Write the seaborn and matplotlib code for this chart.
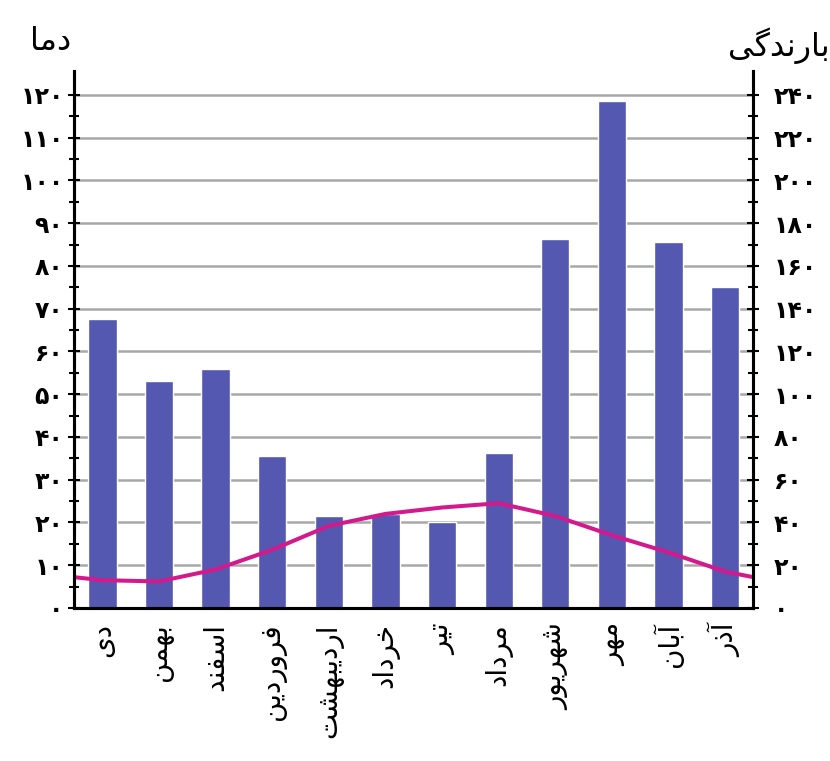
import numpy as np
import pandas as pd
import matplotlib
matplotlib.use('Agg')
import matplotlib.pyplot as plt
import seaborn as sns

sns.set_style('white')
plt.rcParams['font.family'] = ['DejaVu Sans']
plt.rcParams['text.color'] = 'black'
plt.rcParams['xtick.color'] = 'black'
plt.rcParams['ytick.color'] = 'black'

# داده‌ها
months = ['دی', 'بهمن', 'اسفند', 'فروردین', 'اردیبهشت', 'خرداد',
          'تیر', 'مرداد', 'شهریور', 'مهر', 'آبان', 'آذر']
precip = [135, 106, 112, 71, 43, 44, 40, 72.5, 172.5, 237, 171, 150]
temp = [6.5, 6.2, 9, 13.6, 19.2, 22, 23.5, 24.5, 21.5, 17, 13, 8.5]
temp_year_edge = 7.2   # دما در مرز سال (آذر -> دی)
temp_ticks = list(range(0, 121, 10))
precip_ticks = list(range(0, 241, 20))

bar_color = '#5558b0'
line_color = '#d4198c'

# شکل‌دهی ساده حروف فارسی (matplotlib خودش اتصال حروف را انجام نمی‌دهد)
FORMS = {
    'ا': ('\uFE8D', '\uFE8E', None, None),
    'آ': ('\uFE81', '\uFE82', None, None),
    'ب': ('\uFE8F', '\uFE90', '\uFE91', '\uFE92'),
    'ت': ('\uFE95', '\uFE96', '\uFE97', '\uFE98'),
    'خ': ('\uFEA5', '\uFEA6', '\uFEA7', '\uFEA8'),
    'د': ('\uFEA9', '\uFEAA', None, None),
    'ذ': ('\uFEAB', '\uFEAC', None, None),
    'ر': ('\uFEAD', '\uFEAE', None, None),
    'س': ('\uFEB1', '\uFEB2', '\uFEB3', '\uFEB4'),
    'ش': ('\uFEB5', '\uFEB6', '\uFEB7', '\uFEB8'),
    'ف': ('\uFED1', '\uFED2', '\uFED3', '\uFED4'),
    'م': ('\uFEE1', '\uFEE2', '\uFEE3', '\uFEE4'),
    'ن': ('\uFEE5', '\uFEE6', '\uFEE7', '\uFEE8'),
    'ه': ('\uFEE9', '\uFEEA', '\uFEEB', '\uFEEC'),
    'و': ('\uFEED', '\uFEEE', None, None),
    'ی': ('\uFBFC', '\uFBFD', '\uFBFE', '\uFBFF'),
    'گ': ('\uFB92', '\uFB93', '\uFB94', '\uFB95'),
}


def fa(word):
    out = []
    for i, ch in enumerate(word):
        f = FORMS.get(ch)
        if f is None:
            out.append(ch)
            continue
        prev = word[i - 1] if i > 0 else None
        nxt = word[i + 1] if i < len(word) - 1 else None
        j_prev = prev in FORMS and FORMS[prev][2] is not None
        j_next = nxt in FORMS and f[2] is not None
        if j_prev and j_next:
            out.append(f[3])
        elif j_prev:
            out.append(f[1])
        elif j_next:
            out.append(f[2])
        else:
            out.append(f[0])
    return ''.join(out[::-1])


def fa_num(v):
    return str(int(v)).translate(str.maketrans('0123456789', '۰۱۲۳۴۵۶۷۸۹'))


df = pd.DataFrame({'month': [fa(m) for m in months], 'precip': precip})
line_x = [-0.5] + list(range(len(temp))) + [len(temp) - 0.5]
line_y = [temp_year_edge] + temp + [temp_year_edge]

fig = plt.figure(figsize=(8.3, 7.61), dpi=100)
ax = fig.add_axes([0.0892, 0.2011, 0.8186, 0.7056])
ax2 = ax.twinx()

sns.barplot(data=df, x='month', y='precip', color=bar_color, saturation=1,
            width=0.5, ax=ax, zorder=2)
sns.lineplot(x=line_x, y=line_y, color=line_color, linewidth=2.9, ax=ax2,
             sort=False)

ax.set_xlim(-0.5, 11.5)
ax.set_ylim(0, 251.2)
ax2.set_ylim(0, 125.6)
ax.set_xlabel('')
ax.set_ylabel('')
ax2.set_ylabel('')

# محور راست: بارندگی
ax.yaxis.tick_right()
ax.set_yticks(precip_ticks)
ax.set_yticks(range(10, 241, 20), minor=True)
ax.set_yticklabels([fa_num(v) for v in precip_ticks], fontweight='bold')
ax.grid(axis='y', color='#a8a8a8', linewidth=1.8)
ax.set_axisbelow(True)

# محور چپ: دما
ax2.yaxis.tick_left()
ax2.set_yticks(temp_ticks)
ax2.set_yticks(np.arange(5, 121, 10), minor=True)
ax2.set_yticklabels([fa_num(v) for v in temp_ticks], fontweight='bold')

# محور افقی: خط‌های جداکننده و نام ماه‌ها
ax.set_xticks(np.arange(-0.5, 12, 1))
ax.set_xticklabels([])
ax.set_xticks(range(12), minor=True)
ax.set_xticklabels(df['month'], minor=True, rotation=90)

for a in (ax, ax2):
    a.spines['top'].set_visible(False)
    for s in ('left', 'right', 'bottom'):
        a.spines[s].set_linewidth(2.2)
        a.spines[s].set_color('black')

ax.tick_params(axis='x', which='major', direction='inout', length=9,
               width=1.5)
ax.tick_params(axis='x', which='minor', length=0, pad=11, labelsize=20)
ax.tick_params(axis='y', which='major', direction='inout', length=9,
               width=1.5, pad=10, labelsize=17)
ax.tick_params(axis='y', which='minor', direction='inout', length=7,
               width=1.5)
ax2.tick_params(axis='y', which='major', direction='inout', length=9,
                width=1.5, pad=3, labelsize=17)
ax2.tick_params(axis='y', which='minor', direction='inout', length=7,
                width=1.5)

fig.text(51 / 830, 1 - 41 / 761, fa('دما'), ha='center', va='center',
         fontsize=23)
fig.text(830 / 830, 1 - 46 / 761, fa('بارندگی'), ha='right', va='center',
         fontsize=23)

fig.savefig('out.png', dpi=100)
